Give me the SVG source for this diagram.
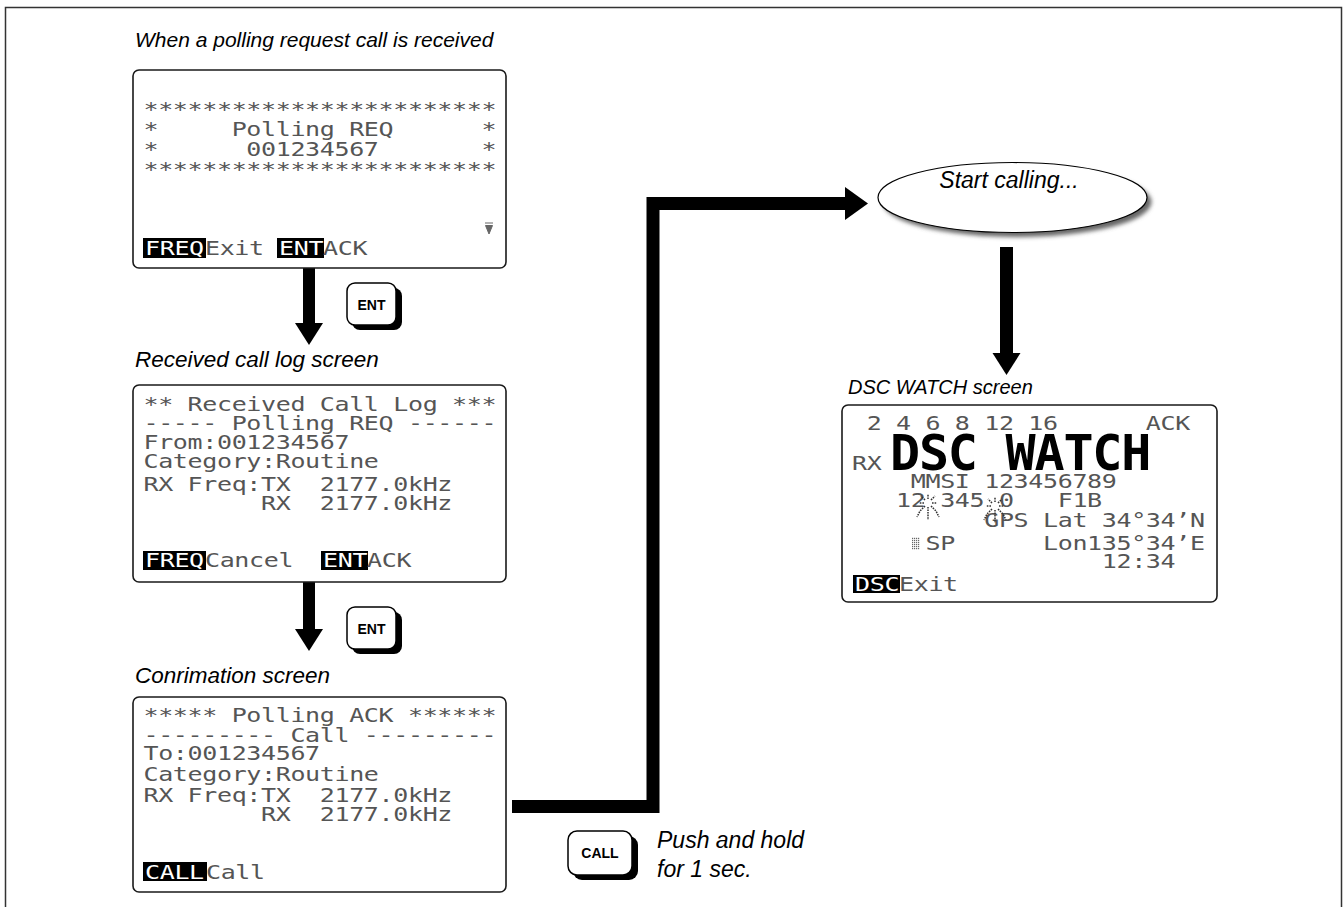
<svg xmlns="http://www.w3.org/2000/svg" width="1343" height="907" viewBox="0 0 1343 907">
<style>
.frame{fill:none;stroke:#333;stroke-width:1.5}
.scr{fill:#fff;stroke:#1a1a1a;stroke-width:1.6}
.lcd{font-family:"DejaVu Sans Mono",monospace;font-size:20px;letter-spacing:-0.28px;fill:#555;white-space:pre}
.inv{fill:#fff}
.box{fill:#000}
.title{font-family:"Liberation Sans",Arial,sans-serif;font-style:italic;font-size:22.5px;fill:#000}
.note{font-family:"Liberation Sans",Arial,sans-serif;font-style:italic;font-size:23px;fill:#000}
.keytxt{font-family:"Liberation Sans",Arial,sans-serif;font-weight:bold;font-size:14px;fill:#000;text-anchor:middle}
.keybody{fill:#fff;stroke:#000;stroke-width:1.5}
.keyshadow{fill:#000}
.conn{fill:none;stroke:#000;stroke-linejoin:miter;stroke-linecap:butt}
.burst{stroke:#333;stroke-width:1.5;stroke-dasharray:1.6 1;fill:none}
</style>
<defs>
<marker id="headS" markerUnits="userSpaceOnUse" markerWidth="23" markerHeight="28" refX="0" refY="14" orient="auto" overflow="visible">
<path d="M0,0 L22,14 L0,28 Z" fill="#000"/>
</marker>
<marker id="headL" markerUnits="userSpaceOnUse" markerWidth="24" markerHeight="34" refX="0" refY="16.5" orient="auto" overflow="visible">
<path d="M0,0 L23,16.5 L0,33 Z" fill="#000"/>
</marker>
<pattern id="dots" width="2" height="2" patternUnits="userSpaceOnUse">
<rect width="1.2" height="1.2" fill="#666"/>
</pattern>
<filter id="blur" x="-10%" y="-20%" width="120%" height="140%">
<feGaussianBlur stdDeviation="2"/>
</filter>
</defs>

<path class="frame" d="M5.5,907 V7.5 H1341.5 V907"/>

<g id="connectors">
<path class="conn" stroke-width="12" d="M309,268 V323" marker-end="url(#headS)"/>
<path class="conn" stroke-width="12" d="M309,582 V629" marker-end="url(#headS)"/>
<path class="conn" stroke-width="13" d="M512,806.5 H653 V203.5 H845" marker-end="url(#headL)"/>
<path class="conn" stroke-width="13" d="M1006.5,247 V353" marker-end="url(#headS)"/>
</g>

<g id="screen-polling-request">
<text class="title" x="135" y="47" style="font-size:21px">When a polling request call is received</text>
<rect class="scr" x="133" y="70" width="373" height="198" rx="6"/>
<rect class="box" x="143" y="238" width="63" height="20"/>
<rect class="box" x="277" y="238" width="47" height="20"/>
<path d="M485,223 H493 M485.5,225.5 H492.5 L489,234 Z" fill="#666" stroke="#666" stroke-width="1"/>
<g transform="matrix(1.25,0,0,1,-35.875,0)">
<text class="lcd" x="143.5" y="116" xml:space="preserve">************************</text>
<text class="lcd" x="143.5" y="136" xml:space="preserve">*     Polling REQ      *</text>
<text class="lcd" x="143.5" y="156" xml:space="preserve">*      001234567       *</text>
<text class="lcd" x="143.5" y="176" xml:space="preserve">************************</text>
<text class="lcd inv" x="144.7" y="255">FREQ</text>
<text class="lcd" x="192.7" y="255">Exit</text>
<text class="lcd inv" x="251.9" y="255">ENT</text>
<text class="lcd" x="287.1" y="255">ACK</text>
</g>
</g>

<g id="key-ent-1">
<rect class="keyshadow" x="352" y="288" width="50" height="42" rx="8"/>
<rect class="keybody" x="347" y="283" width="49" height="42" rx="8"/>
<text class="keytxt" x="371.5" y="310">ENT</text>
</g>

<g id="screen-received-log">
<text class="title" x="135" y="367">Received call log screen</text>
<rect class="scr" x="133" y="385" width="373" height="197" rx="6"/>
<rect class="box" x="143" y="551" width="63" height="19"/>
<rect class="box" x="321" y="551" width="47" height="19"/>
<g transform="matrix(1.25,0,0,1,-35.875,0)">
<text class="lcd" x="143.5" y="411" xml:space="preserve">** Received Call Log ***</text>
<text class="lcd" x="143.5" y="430" xml:space="preserve">----- Polling REQ ------</text>
<text class="lcd" x="143.5" y="449" xml:space="preserve">From:001234567</text>
<text class="lcd" x="143.5" y="468" xml:space="preserve">Category:Routine</text>
<text class="lcd" x="143.5" y="491" xml:space="preserve">RX Freq:TX  2177.0kHz</text>
<text class="lcd" x="143.5" y="510" xml:space="preserve">        RX  2177.0kHz</text>
<text class="lcd inv" x="144.7" y="567">FREQ</text>
<text class="lcd" x="192.7" y="567">Cancel</text>
<text class="lcd inv" x="287.1" y="567">ENT</text>
<text class="lcd" x="322.3" y="567">ACK</text>
</g>
</g>

<g id="key-ent-2">
<rect class="keyshadow" x="352" y="612" width="50" height="42" rx="8"/>
<rect class="keybody" x="347" y="607" width="49" height="42" rx="8"/>
<text class="keytxt" x="371.5" y="634">ENT</text>
</g>

<g id="screen-confirmation">
<text class="title" x="135" y="683">Conrimation screen</text>
<rect class="scr" x="133" y="697" width="373" height="195" rx="6"/>
<rect class="box" x="143" y="862" width="64" height="19"/>
<g transform="matrix(1.25,0,0,1,-35.875,0)">
<text class="lcd" x="143.5" y="722" xml:space="preserve">***** Polling ACK ******</text>
<text class="lcd" x="143.5" y="742" xml:space="preserve">--------- Call ---------</text>
<text class="lcd" x="143.5" y="760" xml:space="preserve">To:001234567</text>
<text class="lcd" x="143.5" y="781" xml:space="preserve">Category:Routine</text>
<text class="lcd" x="143.5" y="802" xml:space="preserve">RX Freq:TX  2177.0kHz</text>
<text class="lcd" x="143.5" y="821" xml:space="preserve">        RX  2177.0kHz</text>
<text class="lcd inv" x="144.7" y="879">CALL</text>
<text class="lcd" x="193.5" y="879">Call</text>
</g>
</g>

<g id="key-call">
<rect class="keyshadow" x="573" y="836" width="65" height="44" rx="9"/>
<rect class="keybody" x="568" y="831" width="64" height="44" rx="9"/>
<text class="keytxt" x="600" y="858">CALL</text>
<text class="note" x="657" y="848">Push and hold</text>
<text class="note" x="657" y="877">for 1 sec.</text>
</g>

<g id="start-calling">
<ellipse cx="1017" cy="202" rx="134.5" ry="35" fill="#666" filter="url(#blur)"/>
<ellipse cx="1012.5" cy="197.5" rx="134.5" ry="35" fill="#fff" stroke="#000" stroke-width="1.2"/>
<text class="note" x="1009" y="188" text-anchor="middle">Start calling...</text>
</g>

<g id="screen-dsc-watch">
<text class="title" x="848" y="394" style="font-size:20px">DSC WATCH screen</text>
<rect class="scr" x="842" y="405" width="375" height="197" rx="6"/>
<rect class="box" x="853" y="575" width="47" height="18"/>
<rect x="912" y="537" width="8" height="13" fill="url(#dots)"/>
<text x="890" y="470" style="font-family:'DejaVu Sans Mono',monospace;font-weight:bold;font-size:50px;letter-spacing:-1.2px;fill:#000">DSC WATCH</text>
<g transform="matrix(1.25,0,0,1,-213,0)">
<text class="lcd" x="852" y="430" xml:space="preserve"> 2 4 6 8 12 16      ACK</text>
<text class="lcd" x="852" y="470" xml:space="preserve">RX</text>
<text class="lcd" x="852" y="488" xml:space="preserve">    MMSI 123456789</text>
<text class="lcd" x="852" y="507" xml:space="preserve">   12 345 0   F1B</text>
<text class="lcd" x="852" y="527" xml:space="preserve">         GPS Lat 34°34’N</text>
<text class="lcd" x="852" y="550" xml:space="preserve">     SP      Lon135°34’E</text>
<text class="lcd" x="852" y="568" xml:space="preserve">                 12:34</text>
<text class="lcd inv" x="854.4" y="591">DSC</text>
<text class="lcd" x="889.6" y="591">Exit</text>
</g>
<g class="burst">
<path d="M928,499 V494 M928,507 V511 M924,503 H919 M932,503 H937 M925,500 L921,496 M931,500 L935,496 M925,506 L920,511 L917,517 M931,506 L936,511 L939,517 M928,512 V520"/>
<path d="M995,502 V497 M995,510 V514 M991,506 H986 M999,506 H1004 M992,503 L988,499 M998,503 L1002,499 M992,509 L987,514 L984,520 M998,509 L1003,514 L1006,520 M995,515 V523"/>
</g>
</g>
</svg>
